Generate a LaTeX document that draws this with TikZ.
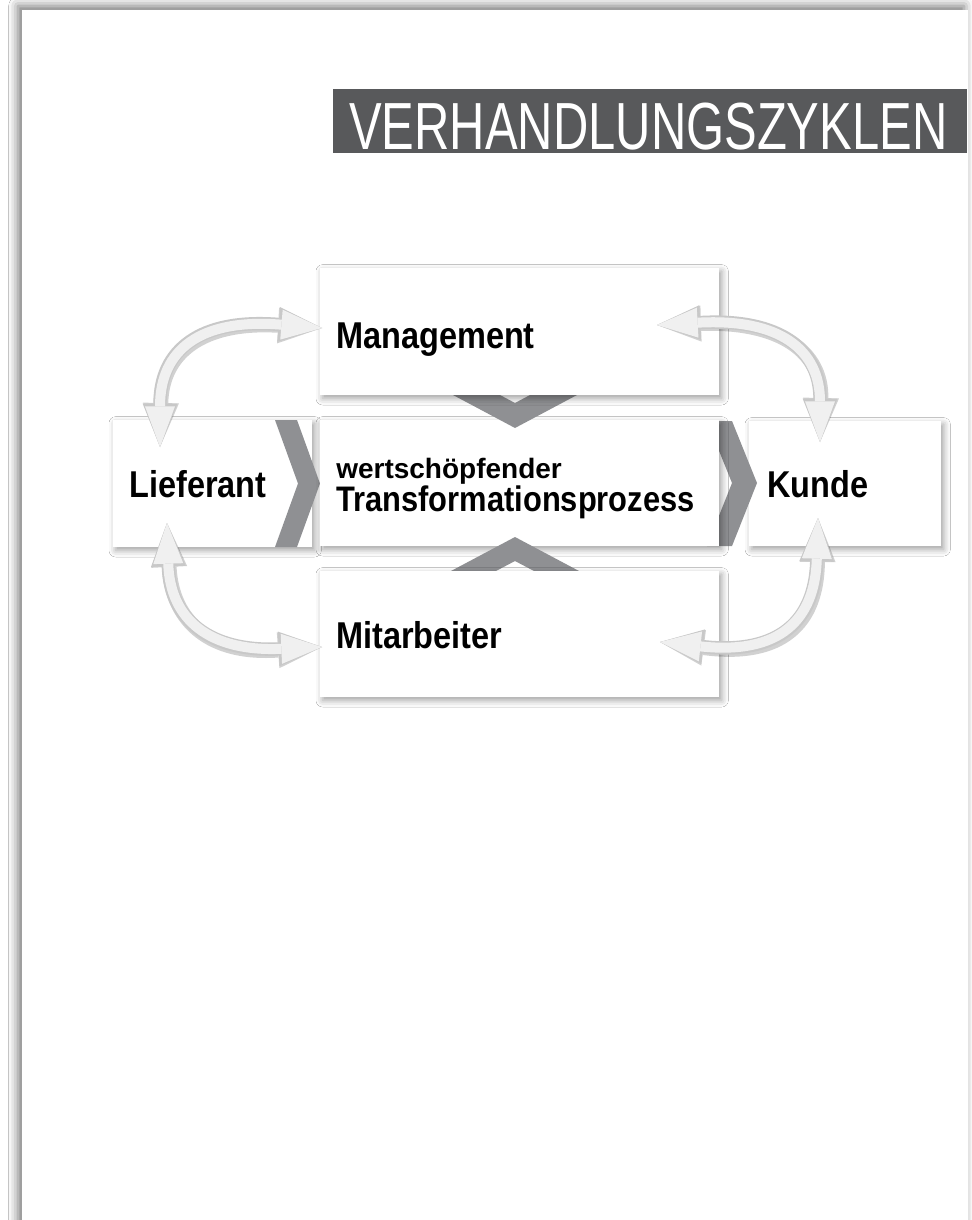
\documentclass[tikz,border=0pt]{standalone}
\usepackage{fontspec}
\setmainfont{Liberation Sans}
\newfontfamily\titlefont[FakeStretch=0.734]{Liberation Sans}
\newfontfamily\boxfont[FakeStretch=0.87]{Liberation Sans}
\newfontfamily\wertfont[FakeStretch=1.0]{Liberation Sans}
\usetikzlibrary{calc,arrows.meta,shadows.blur}
\definecolor{titlegray}{RGB}{88,89,91}
\definecolor{chev}{RGB}{143,144,147}
\definecolor{arrowfill}{RGB}{240,240,240}
\definecolor{arrowedge}{RGB}{200,200,200}
\newcommand\dblcurve[4]{%
  \begin{scope}[transparency group, opacity=0.18, shift={(2,3)}]
    \draw[line width=11pt, black, {Triangle[length=33pt,width=27pt,line width=0pt]}-{Triangle[length=33pt,width=27pt,line width=0pt]}] #1 .. controls #2 and #3 .. #4;
  \end{scope}
  \draw[line width=10pt, arrowedge, {Triangle[length=32.5pt,width=26pt,line width=0pt]}-{Triangle[length=32.5pt,width=26pt,line width=0pt]}] #1 .. controls #2 and #3 .. #4;
  \draw[line width=7.5pt, arrowfill, {Triangle[length=30.5pt,width=22.5pt,line width=0pt]}-{Triangle[length=30.5pt,width=22.5pt,line width=0pt]}] #1 .. controls #2 and #3 .. #4;
}
\begin{document}
\begin{tikzpicture}[x=0.75pt,y=-0.75pt,
  box/.style={fill=white, inner sep=0pt, outer sep=0pt,
    blur shadow={shadow xshift=2pt, shadow yshift=-2.5pt, shadow blur radius=5pt, shadow opacity=38}},
  chevron/.style={fill=chev, draw=none},
  lbl/.style={inner sep=0pt, font=\boxfont\bfseries\fontsize{28pt}{30pt}\selectfont},
  wlbl/.style={inner sep=0pt, font=\wertfont\bfseries\fontsize{21pt}{23pt}\selectfont},
  tlbl/.style={inner sep=0pt, font=\boxfont\bfseries\fontsize{26.6pt}{28pt}\selectfont},
  titletext/.style={inner sep=0pt, text=white, font=\titlefont\fontsize{50pt}{52pt}\selectfont}
]
\useasboundingbox (0,0) rectangle (971,1220);
\fill[white] (0,0) rectangle (971,1220);
% page with shadow
\path[fill=white, blur shadow={shadow xshift=-3pt, shadow yshift=3pt, shadow blur radius=7pt, shadow opacity=55}] (22,10) rectangle (968,1260);
% title bar
\node[fill=titlegray, inner sep=0pt, minimum width=634*0.75pt, minimum height=64*0.75pt] (bar) at (650,121) {};
\node[titletext, anchor=base west] (title) at (349,150) {VERHANDLUNGSZYKLEN};
% outer boxes
\node[box, minimum width=199*0.75pt, minimum height=127*0.75pt] (lief) at (212.5,483.5) {};
\node[box, minimum width=192*0.75pt, minimum height=125*0.75pt] (kunde) at (845,483.5) {};
% side chevrons
\fill[chevron] (275,420) -- (297,420) -- (320,483.5) -- (297,547) -- (275,547) -- (298,483.5) -- cycle;
\fill[chevron] (707,421) -- (732,421) -- (757,483) -- (732,546) -- (707,546) -- (732,483) -- cycle;
% centre box
\node[box, minimum width=399*0.75pt, minimum height=126*0.75pt] (proc) at (519.5,483) {};
% vertical chevrons
\fill[chevron] (453,395) -- (500,395) -- (515,403) -- (530,395) -- (577,395) -- (515,428) -- cycle;
\fill[chevron] (451,571) -- (496,571) -- (515,561) -- (534,571) -- (579,571) -- (515,537) -- cycle;
% top and bottom boxes
\node[box, minimum width=399*0.75pt, minimum height=127*0.75pt] (mgmt) at (519.5,331.5) {};
\node[box, minimum width=399*0.75pt, minimum height=126*0.75pt] (mit) at (519.5,634) {};
% labels
\node[lbl, anchor=base west] (tMgmt) at (336,348) {Management};
\node[lbl, anchor=base west] (tLief) at (129,497) {Lieferant};
\node[lbl, anchor=base west] (tKunde) at (767,497) {Kunde};
\node[lbl, anchor=base west] (tMit) at (336,648) {Mitarbeiter};
\node[wlbl, anchor=base west] (tWert) at (336,478) {wertschöpfender};
\node[tlbl, anchor=base west] (tTrans) at (336,511) {Transformationsprozess};
% curved double arrows
\dblcurve{($(mgmt.west)+(2,-3.5)$)}{(200,318)}{(160,350)}{($(lief.north)+(-52.5,27)$)}
\dblcurve{($(mgmt.east)+(-62,-6.5)$)}{(780,318)}{(820,350)}{($(kunde.north)+(-25,21)$)}
\dblcurve{($(lief.south)+(-45.5,-24)$)}{(170,620)}{(210,652)}{($(mit.west)+(2,13)$)}
\dblcurve{($(kunde.south)+(-27,-28)$)}{(815,620)}{(780,655)}{($(mit.east)+(-59,8)$)}
\end{tikzpicture}
\end{document}
